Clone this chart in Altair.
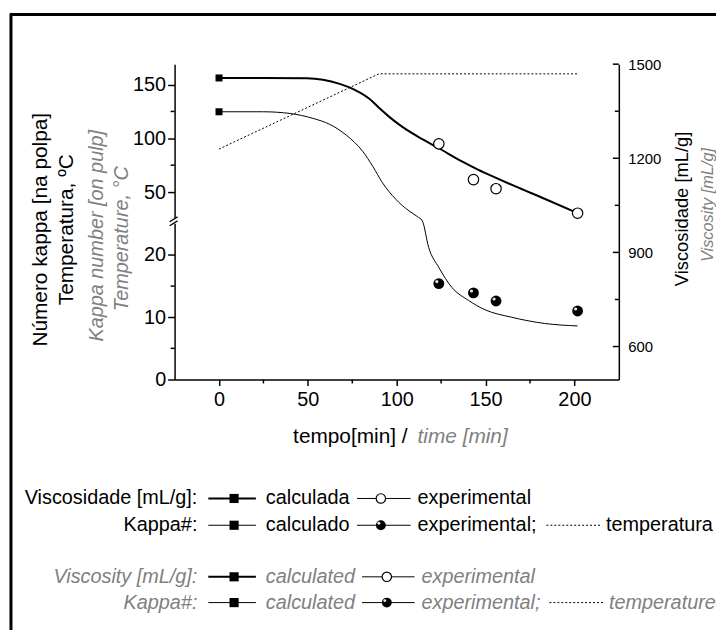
import altair as alt
import pandas as pd

# ---------------- data ----------------
t_visc_calc = [0, 25, 49.3, 67.9, 77.2, 84.6, 90.2, 95.8, 103.2, 114.4, 123.7, 136.7, 146.0, 155.3, 166.5, 183.2, 201.8]
visc_calc = [1456, 1456, 1455, 1437, 1416, 1390, 1360, 1332, 1300, 1261, 1232, 1190, 1163, 1139, 1111, 1071, 1025]

t_visc_exp = [123.7, 143.2, 155.9, 201.8]
visc_exp = [1246, 1132, 1103, 1025]

t_kappa_calc = [0, 25, 40, 53, 62.3, 71.6, 80.9, 86.5, 92, 99.5, 106.9, 111.6, 114.4, 118, 123.7, 131, 140.4, 149.7, 164.6, 183.2, 201.8]
kappa_calc = [124.7, 124.7, 123.1, 118.5, 113, 103, 87.8, 74, 58.6, 43.3, 32.5, 27.2, 25.5, 21.2, 18.0, 14.8, 12.7, 11.2, 10.0, 9.0, 8.6]

t_kappa_exp = [123.7, 143.2, 155.9, 201.8]
kappa_exp = [15.4, 13.9, 12.6, 11.0]

t_temp = [0, 90, 202]
temp = [90, 160, 160]

x_major = [0, 50, 100, 150, 200]
x_minor = [25, 75, 125, 175]
left_major = [0, 10, 20, 50, 100, 150]
left_minor = [5, 15, 75, 125]
right_major = [600, 900, 1200, 1500]
right_minor = [750, 1050, 1350]

# ---------------- layout ----------------
W, H = 448, 318
FONT = "Liberation Sans"
GRAY = "#808080"

xs = alt.Scale(domain=[-25, 225], nice=False, zero=False)
ys_left = alt.Scale(type="linear", domain=[0, 25, 26, 169], range=[H, 161, 155, 0], nice=False, zero=False)
ys_right = alt.Scale(domain=[495, 1500], nice=False, zero=False)

x_axis = alt.Axis(values=x_major, tickSize=6, labelFontSize=20, labelPadding=4, title=None, grid=False,
                  domainColor="black", tickColor="black", domainWidth=1.5, tickWidth=1.5, labelColor="black",
                  labelFont=FONT)
yl_axis = alt.Axis(orient="left", values=left_major, tickSize=7, labelFontSize=20, labelPadding=2, title=None,
                   grid=False, domainColor="black", tickColor="black", domainWidth=1.5, tickWidth=1.5,
                   labelColor="black", labelFont=FONT)
yr_axis = alt.Axis(orient="right", values=right_major, ticks=False, labelFontSize=15, labelPadding=9, title=None,
                   grid=False, domainColor="black", domainWidth=1.5, labelColor="black", labelFont=FONT,
                   format="d")

df_vc = pd.DataFrame({"t": t_visc_calc, "v": visc_calc})
df_ve = pd.DataFrame({"t": t_visc_exp, "v": visc_exp})
df_kc = pd.DataFrame({"t": t_kappa_calc, "k": kappa_calc})
df_ke = pd.DataFrame({"t": t_kappa_exp, "k": kappa_exp})
df_tp = pd.DataFrame({"t": t_temp, "k": temp})
one = pd.DataFrame({"a": [0]})


def X():
    return alt.X("t:Q", scale=xs, axis=x_axis)


def YL():
    return alt.Y("k:Q", scale=ys_left, axis=yl_axis)


def YR():
    return alt.Y("v:Q", scale=ys_right, axis=yr_axis)


# left group (kappa / temperature)
kappa_line = alt.Chart(df_kc).mark_line(color="black", strokeWidth=1, interpolate="monotone").encode(x=X(), y=YL())
temp_line = alt.Chart(df_tp).mark_line(color="black", strokeWidth=1, strokeDash=[2, 2]).encode(x=X(), y=YL())
kappa_sq = alt.Chart(df_kc.iloc[:1]).mark_point(shape="square", filled=True, color="black", size=50,
                                                opacity=1).encode(x=X(), y=YL())
kappa_pts = alt.Chart(df_ke).mark_point(shape="circle", filled=True, color="black", size=120,
                                        opacity=1).encode(x=X(), y=YL())
kappa_hl = alt.Chart(df_ke).mark_point(shape="circle", filled=True, color="white", size=10, opacity=0.9,
                                       xOffset=-2, yOffset=-2).encode(x=X(), y=YL())
lminor = alt.Chart(pd.DataFrame({"k": left_minor})).mark_rule(color="black", strokeWidth=1.5).encode(
    y=YL(), x=alt.value(0), x2=alt.value(-4))
xminor = alt.Chart(pd.DataFrame({"t": x_minor})).mark_rule(color="black", strokeWidth=1.5).encode(
    x=X(), y=alt.value(H), y2=alt.value(H + 4))

left = alt.layer(kappa_line, temp_line, kappa_sq, kappa_pts, kappa_hl, lminor, xminor)

# right group (viscosity)
visc_line = alt.Chart(df_vc).mark_line(color="black", strokeWidth=2, interpolate="monotone").encode(x=X(), y=YR())
visc_sq = alt.Chart(df_vc.iloc[:1]).mark_point(shape="square", filled=True, color="black", size=50,
                                               opacity=1).encode(x=X(), y=YR())
visc_pts = alt.Chart(df_ve).mark_point(shape="circle", filled=True, fill="white", stroke="black", strokeWidth=1.2,
                                       size=110, opacity=1).encode(x=X(), y=YR())
rmaj = alt.Chart(pd.DataFrame({"v": right_major})).mark_rule(color="black", strokeWidth=1.5).encode(
    y=YR(), x=alt.value(W - 6), x2=alt.value(W))
rmin = alt.Chart(pd.DataFrame({"v": right_minor})).mark_rule(color="black", strokeWidth=1.5).encode(
    y=YR(), x=alt.value(W - 4), x2=alt.value(W))

right = alt.layer(visc_line, visc_sq, visc_pts, rmaj, rmin)


# ---------------- decorations & texts ----------------
def txt(s, x, y, size=20, color="black", italic=False, align="left", angle=0):
    return alt.Chart(one).mark_text(text=s, font=FONT, fontSize=size, color=color,
                                    fontStyle="italic" if italic else "normal",
                                    align=align, baseline="middle", angle=angle).encode(
        x=alt.value(x), y=alt.value(y))


def rule(x1, y1, x2, y2, w=1.0, dash=None, color="black"):
    kw = dict(color=color, strokeWidth=w)
    if dash:
        kw["strokeDash"] = dash
    return alt.Chart(one).mark_rule(**kw).encode(x=alt.value(x1), y=alt.value(y1), x2=alt.value(x2), y2=alt.value(y2))


def sq(x, y):
    return alt.Chart(one).mark_point(shape="square", filled=True, color="black", size=85, opacity=1).encode(
        x=alt.value(x), y=alt.value(y))


def opencirc(x, y):
    return alt.Chart(one).mark_point(shape="circle", filled=True, fill="white", stroke="black", strokeWidth=1.2,
                                     size=90, opacity=1).encode(x=alt.value(x), y=alt.value(y))


def sphere(x, y):
    a = alt.Chart(one).mark_point(shape="circle", filled=True, color="black", size=100, opacity=1).encode(
        x=alt.value(x), y=alt.value(y))
    b = alt.Chart(one).mark_point(shape="circle", filled=True, color="white", size=9, opacity=0.9).encode(
        x=alt.value(x - 2), y=alt.value(y - 2))
    return [a, b]


deco = []
# axis break
deco.append(alt.Chart(one).mark_rect(color="white").encode(x=alt.value(-3), x2=alt.value(3), y=alt.value(155),
                                                          y2=alt.value(161)))
deco.append(rule(-5, 163, 3, 158, 1.3))
deco.append(rule(-5, 159, 3, 154, 1.3))
# outer frame
deco.append(rule(-165, -51, -165, 590, 3))
deco.append(rule(-166, -50, 560, -50, 3))

# axis titles
deco.append(txt("Número kappa [na polpa]", -135, 167, 21, angle=270, align="center"))
deco.append(txt("Temperatura, ºC", -108, 167, 21, angle=270, align="center"))
deco.append(txt("Kappa number [on pulp]", -78, 173, 20, GRAY, True, angle=270, align="center"))
deco.append(txt("Temperature, °C", -53, 176, 20, GRAY, True, angle=270, align="center"))
deco.append(txt("Viscosidade [mL/g]", 512, 146, 18.5, angle=270, align="center"))
deco.append(txt("Viscosity [mL/g]", 538, 142, 16.5, GRAY, True, angle=270, align="center"))
deco.append(txt("tempo[min] /", 235, 376, 21, align="right"))
deco.append(txt("time [min]", 245, 376, 21, GRAY, True))

# legend
rows = [438, 465, 517, 543]
# row 1
deco.append(txt("Viscosidade [mL/g]:", 23, rows[0], align="right"))
deco.append(rule(34, rows[0], 82, rows[0], 2))
deco.append(sq(60, rows[0]))
deco.append(txt("calculada", 92, rows[0]))
deco.append(rule(184, rows[0], 238, rows[0], 1))
deco.append(opencirc(208, rows[0]))
deco.append(txt("experimental", 245, rows[0]))
# row 2
deco.append(txt("Kappa#:", 23, rows[1], align="right"))
deco.append(rule(34, rows[1], 82, rows[1], 1))
deco.append(sq(60, rows[1]))
deco.append(txt("calculado", 92, rows[1]))
deco.append(rule(184, rows[1], 238, rows[1], 1))
deco += sphere(208, rows[1])
deco.append(txt("experimental;", 245, rows[1]))
deco.append(rule(375, rows[1], 429, rows[1], 1, [2, 2]))
deco.append(txt("temperatura", 435, rows[1]))
# row 3
deco.append(txt("Viscosity [mL/g]:", 23, rows[2], color=GRAY, italic=True, align="right"))
deco.append(rule(34, rows[2], 82, rows[2], 2))
deco.append(sq(60, rows[2]))
deco.append(txt("calculated", 92, rows[2], color=GRAY, italic=True))
deco.append(rule(189, rows[2], 242, rows[2], 1))
deco.append(opencirc(214, rows[2]))
deco.append(txt("experimental", 249, rows[2], color=GRAY, italic=True))
# row 4
deco.append(txt("Kappa#:", 23, rows[3], color=GRAY, italic=True, align="right"))
deco.append(rule(34, rows[3], 82, rows[3], 1))
deco.append(sq(60, rows[3]))
deco.append(txt("calculated", 92, rows[3], color=GRAY, italic=True))
deco.append(rule(189, rows[3], 242, rows[3], 1))
deco += sphere(214, rows[3])
deco.append(txt("experimental;", 249, rows[3], color=GRAY, italic=True))
deco.append(rule(378, rows[3], 433, rows[3], 1, [2, 2]))
deco.append(txt("temperature", 438, rows[3], color=GRAY, italic=True))

chart = alt.layer(left, right, *deco).resolve_scale(y="independent").properties(
    width=W, height=H,
    autosize=alt.AutoSizeParams(type="none"),
    padding={"left": 168, "top": 54, "right": 98, "bottom": 250},
).configure(font=FONT).configure_view(stroke=None)

chart.save("out.html", embed_options={"renderer": "svg", "actions": False})
